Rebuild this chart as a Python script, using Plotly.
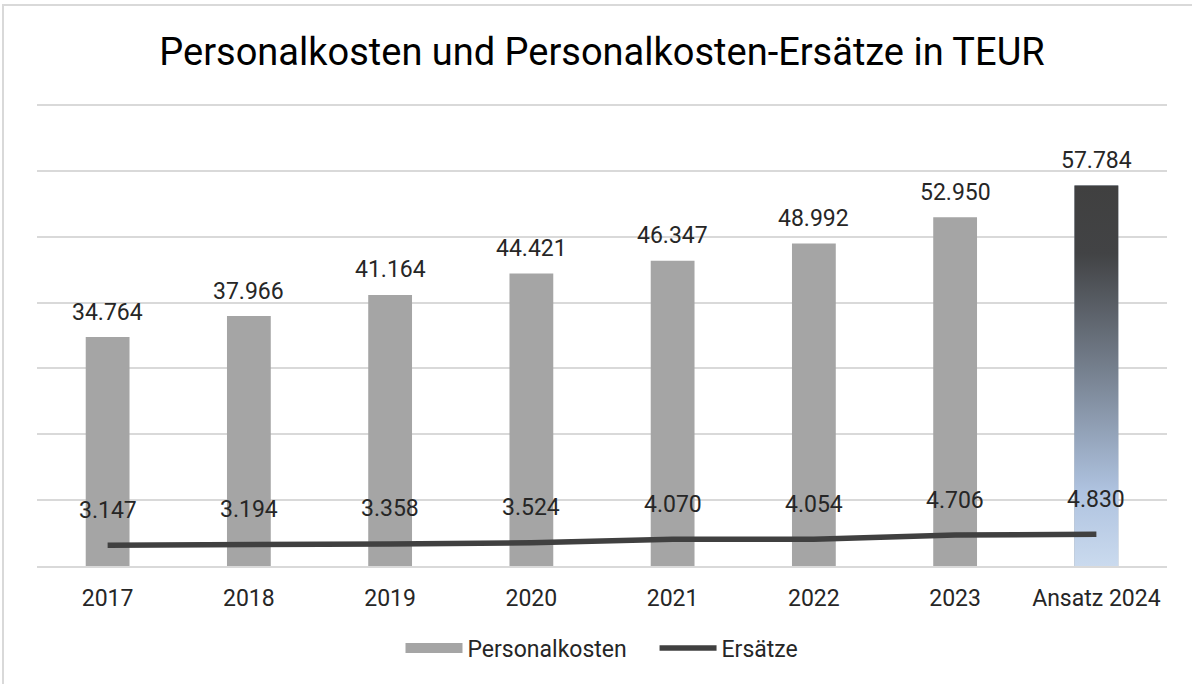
import plotly.graph_objects as go

categories = ["2017", "2018", "2019", "2020", "2021", "2022", "2023", "Ansatz 2024"]
personalkosten = [34764, 37966, 41164, 44421, 46347, 48992, 52950, 57784]
ersaetze = [3147, 3194, 3358, 3524, 4070, 4054, 4706, 4830]

W, H = 1192, 684
ML, MR, MT, MB = 37, 25, 104, 118
BAR_GRAY = "#a5a5a5"
LINE_COL = "#404040"
TXT = "#262626"
FONT = "Roboto"
BAR_W = 0.31

def de(v):
    return f"{v:,}".replace(",", ".")

fig = go.Figure()

idx = list(range(len(categories)))

# bars (last bar gets a gradient overlay below)
bar_colors = [BAR_GRAY] * (len(categories) - 1) + ["#8090a4"]
fig.add_trace(go.Bar(
    x=idx, y=personalkosten, name="Personalkosten",
    marker=dict(color=bar_colors, line=dict(width=0)),
    width=BAR_W, showlegend=False, hoverinfo="x+y",
))

# gradient fill for the "Ansatz 2024" bar, in data units of the same axes
li = idx[-1]
lv = personalkosten[-1]
fig.add_trace(go.Scatter(
    x=[li - BAR_W / 2, li + BAR_W / 2, li + BAR_W / 2, li - BAR_W / 2, li - BAR_W / 2],
    y=[0, 0, lv, lv, 0],
    mode="lines", line=dict(width=0), fill="toself",
    fillgradient=dict(
        type="vertical",
        colorscale=[
            [0.0, "rgb(202,218,238)"],
            [0.2, "rgb(174,194,223)"],
            [0.5, "rgb(120,131,146)"],
            [0.82, "rgb(66,67,69)"],
            [1.0, "rgb(64,64,64)"],
        ],
    ),
    showlegend=False, hoverinfo="skip",
))

fig.add_trace(go.Scatter(
    x=idx, y=ersaetze, name="Ersätze", mode="lines",
    line=dict(color=LINE_COL, width=5.5), showlegend=False,
))

# legend entries
NB = "\u00a0"
fig.add_trace(go.Scatter(
    x=[None], y=[None], name="Personalkosten" + NB * 4, mode="lines",
    line=dict(color=BAR_GRAY, width=13), legendrank=1,
))
fig.add_trace(go.Scatter(
    x=[None], y=[None], name="Ersätze", mode="lines",
    line=dict(color=LINE_COL, width=5.5), legendrank=2,
))

for i, v in zip(idx, personalkosten):
    fig.add_annotation(
        x=i, y=v, text=de(v), showarrow=False, yanchor="middle",
        yshift=25, font=dict(family=FONT, size=23, color=TXT),
    )
for i, v in zip(idx, ersaetze):
    fig.add_annotation(
        x=i, y=v, text=de(v), showarrow=False, yanchor="middle",
        yshift=35, font=dict(family=FONT, size=23, color=TXT),
    )

pw = W - ML - MR
ph = H - MT - MB
fig.add_shape(
    type="rect", xref="paper", yref="paper",
    x0=(3 - ML) / pw, x1=(W + 20 - ML) / pw,
    y0=-(MB + 20) / ph, y1=1 + (MT - 5) / ph,
    line=dict(color="#d9d9d9", width=2), fillcolor="rgba(0,0,0,0)", layer="below",
)

fig.update_layout(
    width=W, height=H,
    margin=dict(l=ML, r=MR, t=MT, b=MB, autoexpand=False),
    paper_bgcolor="white", plot_bgcolor="white",
    barmode="overlay",
    title=dict(
        text="Personalkosten und Personalkosten-Ersätze in TEUR",
        x=0.5, xanchor="center", xref="paper", y=1 - 52 / H, yanchor="middle",
        font=dict(family=FONT, size=38, color="#000000"),
    ),
    font=dict(family=FONT, color=TXT),
    showlegend=True,
    legend=dict(
        orientation="h", x=0.5, xanchor="center", y=-(648 - 566) / ph, yanchor="middle",
        font=dict(family=FONT, size=23, color=TXT),
        itemwidth=57, bgcolor="rgba(0,0,0,0)",
    ),
    xaxis=dict(
        range=[-0.5, len(categories) - 0.5],
        tickmode="array", tickvals=idx, ticktext=categories,
        showgrid=False, showline=True, linecolor="#d9d9d9", linewidth=2, zeroline=False,
        ticks="", ticklabelstandoff=10, tickfont=dict(family=FONT, size=23, color=TXT),
    ),
    yaxis=dict(
        range=[0, 70160], dtick=10000, showticklabels=False, showgrid=True,
        gridcolor="#d9d9d9", gridwidth=2, zeroline=False,
    ),
)

fig.write_html(
    "out.html",
    config={"displayModeBar": False},
    post_script="document.body.style.margin='0';document.body.style.padding='0';",
)
